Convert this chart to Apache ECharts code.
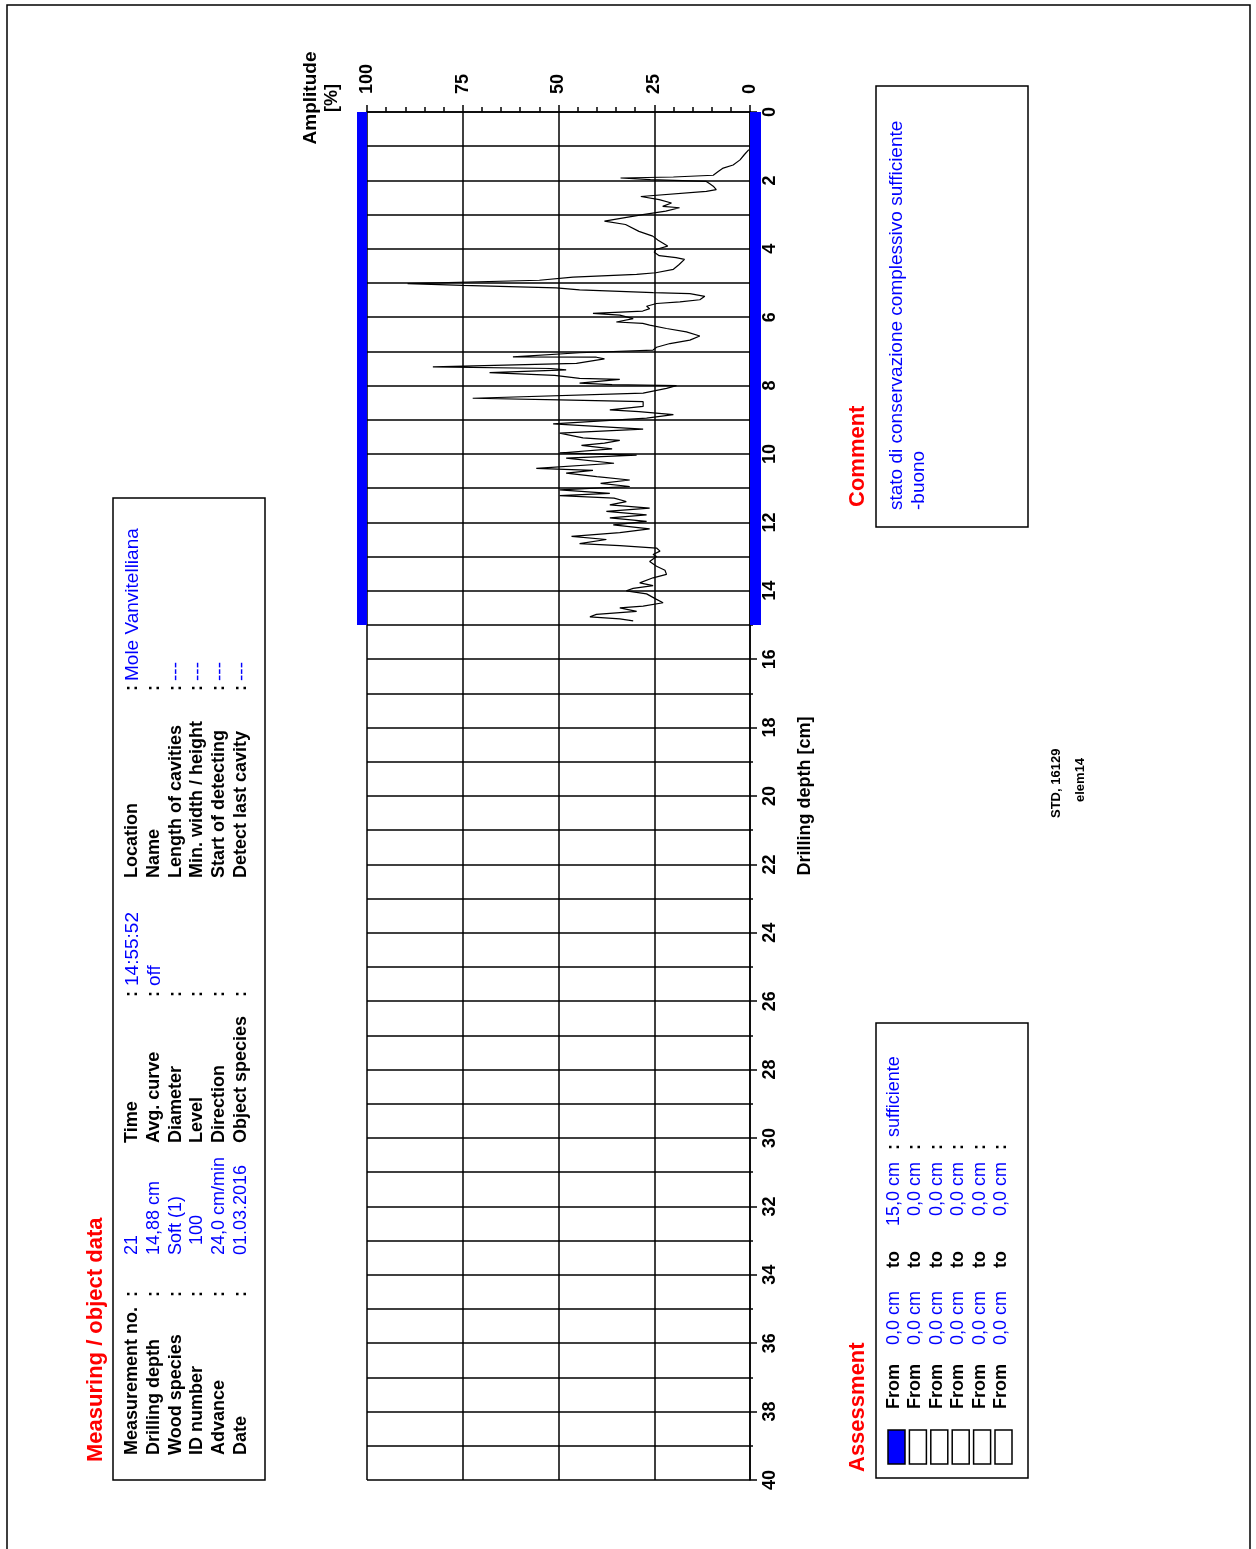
<!DOCTYPE html>
<html>
<head>
<meta charset="utf-8">
<title>Drilling profile</title>
<script src="https://cdn.jsdelivr.net/npm/echarts@6/dist/echarts.min.js"></script>
<style>
html, body { margin: 0; padding: 0; background: #fff; }
#chart { width: 1256px; height: 1549px; }
</style>
</head>
<body>
<div id="chart"></div>
<script>
// drilling profile: depth [cm] and amplitude [%]
var depth = [
	1.10, 1.25, 1.40, 1.55, 1.64, 1.74, 1.85, 1.90, 1.93,
	1.98, 2.03, 2.10, 2.17, 2.27, 2.32, 2.47, 2.56, 2.66, 2.76,
	2.80, 2.90, 3.00, 3.05, 3.19, 3.29, 3.49, 3.63, 3.75, 3.83,
	3.92, 4.02, 4.10, 4.20, 4.26, 4.31, 4.46, 4.60, 4.70, 4.75,
	4.83, 4.92, 5.02, 5.07, 5.14, 5.20, 5.28, 5.31, 5.39, 5.49,
	5.55, 5.60, 5.68, 5.75, 5.82, 5.89, 5.94, 6.04, 6.14, 6.18,
	6.23, 6.33, 6.43, 6.55, 6.67, 6.77, 6.88, 6.96, 7.04, 7.16,
	7.17, 7.22, 7.35, 7.45, 7.50, 7.54, 7.62, 7.70, 7.79, 7.82,
	7.93, 7.97, 8.00, 8.08, 8.22, 8.37, 8.42, 8.47, 8.61, 8.71,
	8.76, 8.85, 8.95, 9.12, 9.27, 9.39, 9.53, 9.60, 9.68, 9.75,
	9.85, 9.97, 10.03, 10.12, 10.27, 10.42, 10.48, 10.56, 10.66, 10.76,
	10.86, 10.95, 11.05, 11.15, 11.22, 11.29, 11.39, 11.49, 11.58, 11.68,
	11.78, 11.87, 11.97, 12.07, 12.19, 12.30, 12.41, 12.50, 12.62, 12.68,
	12.75, 12.84, 12.94, 13.00, 13.14, 13.28, 13.40, 13.52, 13.62, 13.77,
	13.85, 13.93, 14.00, 14.09, 14.25, 14.35, 14.45, 14.50, 14.60, 14.69,
	14.76, 14.82, 14.88
];
var amplitude = [
	0.3, 1.5, 2.6, 4.4, 7.0, 8.3, 9.6, 20, 33.8,
	26, 11.4, 10.5, 9.6, 8.8, 11.4, 28.5, 23.7, 20.5, 22.8,
	18.4, 22, 28, 27.5, 38, 32.5, 29, 25.4, 24, 22.8,
	21.5, 24.6, 25, 23.7, 19.3, 17.1, 18.5, 20, 24.6, 29.6,
	46.2, 55, 89.4, 75, 50.6, 44.5, 25.3, 15.7, 11.8, 13.1,
	18.3, 24.4, 27, 26.2, 28, 41, 34, 30.5, 34.9, 28,
	26.2, 21.8, 16.6, 13.1, 15.7, 20.9, 24.4, 25.3, 44.5, 61.9,
	40.1, 38, 45.3, 82.8, 52, 48, 68, 51, 44.5, 34,
	44.5, 36, 19.2, 21.8, 27.9, 72.4, 49.7, 27.9, 27.9, 36.6,
	29, 20, 27, 51.4, 27.9, 49.7, 43.6, 34, 38, 44,
	36, 49.7, 29.6, 48, 35.5, 55.8, 41, 48, 40, 31.4,
	39, 31.4, 49.7, 36.6, 49.7, 35.5, 32.3, 36.6, 26.2, 37.5,
	27, 36.6, 27, 35.7, 26.2, 34, 46.6, 37.5, 44.5, 34,
	24.4, 23.5, 25.3, 24.4, 26.2, 24.4, 22.2, 21.8, 25.3, 28.8,
	25.3, 30.5, 32.3, 27, 24.4, 22.7, 27.9, 34, 29.6, 40.1,
	41.8, 34, 30.5
];

// assessment ranges [cm]
var assessFrom = [0, 0, 0, 0, 0, 0];
var assessTo = [15, 0, 0, 0, 0, 0];
var assessText = ['sufficiente', '', '', '', '', ''];

// measuring / object data
var infoLabels1 = ['Measurement no.', 'Drilling depth', 'Wood species', 'ID number', 'Advance', 'Date'];
var infoValues1 = ['21', '14,88 cm', 'Soft (1)', '  100', '24,0 cm/min', '01.03.2016'];
var infoLabels2 = ['Time', 'Avg. curve', 'Diameter', 'Level', 'Direction', 'Object species'];
var infoValues2 = ['14:55:52', 'off', '', '', '', ''];
var infoLabels3 = ['Location', 'Name', 'Length of cavities', 'Min. width / height', 'Start of detecting', 'Detect last cavity'];
var infoValues3 = ['Mole Vanvitelliana', '', '---', '---', '---', '---'];

var commentLines = ['stato di conservazione complessivo sufficiente', '-buono'];
var footLines = ['STD, 16129', 'elem14'];

var H = 1549;
var FONT = '"Liberation Sans", Arial, sans-serif';
var BLUE = '#0000ff', RED = '#ff0000';

// text turned a quarter left: x = left edge on screen, yStart = where the text begins (bottom)
function rtext(x, yStart, str, style) {
	return {
		type: 'text', x: H - yStart, y: x,
		style: Object.assign({
			text: str, fill: '#000', fontFamily: FONT, fontSize: 18,
			align: 'left', verticalAlign: 'top', textAlign: 'left', textVerticalAlign: 'top'
		}, style || {})
	};
}
function box(x, y, w, h, fill) {
	return {type: 'rect', shape: {x: x, y: y, width: w, height: h},
		style: {fill: fill || 'none', stroke: '#000', lineWidth: 1.5}};
}
function fmt(v) {
	return v.toFixed(1).replace('.', ',') + ' cm';
}

var rotated = [];
// left info block
rotated.push(rtext(85, 1462, 'Measuring / object data', {fill: RED, fontSize: 22, fontWeight: 'bold'}));
for (var i = 0; i < 6; i++) {
	var rx = 123 + i * 21.8;
	rotated.push(rtext(rx, 1455, infoLabels1[i], {fontWeight: 'bold'}));
	rotated.push(rtext(rx, 1297, ':', {fontWeight: 'bold'}));
	rotated.push(rtext(rx, 1255, infoValues1[i], {fill: BLUE}));
	rotated.push(rtext(rx, 1143, infoLabels2[i], {fontWeight: 'bold'}));
	rotated.push(rtext(rx, 997, ':', {fontWeight: 'bold'}));
	rotated.push(rtext(rx, 986, infoValues2[i], {fill: BLUE, fontSize: 19}));
	rotated.push(rtext(rx, 878, infoLabels3[i], {fontWeight: 'bold'}));
	rotated.push(rtext(rx, 691, ':', {fontWeight: 'bold'}));
	rotated.push(rtext(rx, 681, infoValues3[i], {fill: BLUE, fontSize: 19}));
}
// amplitude axis caption
rotated.push(rtext(301, 98, 'Amplitude', {fontWeight: 'bold', fontSize: 19, align: 'center', textAlign: 'center'}));
rotated.push(rtext(323, 98, '[%]', {fontWeight: 'bold', align: 'center', textAlign: 'center'}));
// comment
rotated.push(rtext(847, 507, 'Comment', {fill: RED, fontSize: 22, fontWeight: 'bold'}));
for (var c = 0; c < commentLines.length; c++) {
	rotated.push(rtext(887 + c * 22, 510, commentLines[c], {fill: BLUE, fontSize: 19}));
}
// assessment
rotated.push(rtext(847, 1472, 'Assessment', {fill: RED, fontSize: 22, fontWeight: 'bold', letterSpacing: 0.6}));
for (var a = 0; a < assessFrom.length; a++) {
	var ax = 885 + a * 21.4;
	rotated.push(rtext(ax, 1409, 'From', {fontWeight: 'bold'}));
	rotated.push(rtext(ax, 1345, fmt(assessFrom[a]), {fill: BLUE}));
	rotated.push(rtext(ax, 1268, 'to', {fontWeight: 'bold'}));
	rotated.push(rtext(ax, 1162, fmt(assessTo[a]), {fill: BLUE, align: 'right', textAlign: 'right'}));
	rotated.push(rtext(ax, 1150, ':', {fontWeight: 'bold'}));
	rotated.push(rtext(ax, 1137, assessText[a], {fill: BLUE}));
}
// footer stamp
rotated.push(rtext(1050, 818, footLines[0], {fontSize: 13, fontWeight: 'bold'}));
rotated.push(rtext(1074, 802, footLines[1], {fontSize: 13, fontWeight: 'bold'}));

var flat = [
	box(7, 5, 1243, 1600),
	box(113, 498, 152, 982),
	box(876, 86, 152, 441),
	box(876, 1023, 152, 455)
];
for (var s = 0; s < assessFrom.length; s++) {
	flat.push(box(888 + s * 21.4, 1430, 17, 34, assessTo[s] > assessFrom[s] ? BLUE : '#fff'));
}

var profile = [];
for (var k = 0; k < depth.length; k++) {
	profile.push([amplitude[k], depth[k]]);
}
var ranges = [];
for (var r = 0; r < assessFrom.length; r++) {
	if (assessTo[r] > assessFrom[r]) ranges.push([assessFrom[r], assessTo[r]]);
}

var chart = echarts.init(document.getElementById('chart'));
chart.setOption({
	backgroundColor: '#fff',
	animation: false,
	textStyle: {fontFamily: FONT},
	grid: {left: 367, right: 506, top: 112, bottom: 69},
	xAxis: {
		type: 'value', position: 'top', inverse: true,
		min: 0, max: 100, interval: 25,
		axisLine: {show: true, lineStyle: {color: '#000', width: 1.5}},
		axisTick: {show: true, length: 7, lineStyle: {color: '#000', width: 1.5}},
		minorTick: {show: true, splitNumber: 5, length: 5, lineStyle: {color: '#000', width: 1.5}},
		splitLine: {show: true, lineStyle: {color: '#000', width: 1.5}},
		axisLabel: {rotate: 90, margin: 18, color: '#000', fontSize: 18, fontWeight: 'bold', fontFamily: FONT}
	},
	yAxis: {
		type: 'value', position: 'right', inverse: true,
		min: 0, max: 40, interval: 2,
		name: 'Drilling depth [cm]', nameLocation: 'middle', nameRotate: 90, nameGap: 46,
		nameTextStyle: {color: '#000', fontSize: 18, fontWeight: 'bold', fontFamily: FONT},
		axisLine: {show: true, lineStyle: {color: '#000', width: 1.5}},
		axisTick: {show: true, length: 7, lineStyle: {color: '#000', width: 1.5}},
		minorTick: {show: true, splitNumber: 2, length: 3, lineStyle: {color: '#000', width: 1.5}},
		splitLine: {show: true, lineStyle: {color: '#000', width: 1.5}},
		minorSplitLine: {show: true, lineStyle: {color: '#000', width: 1.5}},
		axisLabel: {rotate: 90, margin: 11, color: '#000', fontSize: 18, fontWeight: 'bold', fontFamily: FONT}
	},
	series: [
		{
			type: 'custom', clip: false, z: 3,
			data: ranges,
			renderItem: function(params, api) {
				var top = api.coord([100, api.value(0)]);
				var bot = api.coord([100, api.value(1)]);
				var right = api.coord([0, api.value(0)]);
				return {type: 'group', children: [
					{type: 'rect', shape: {x: top[0] - 10, y: top[1], width: 10, height: bot[1] - top[1]}, style: {fill: BLUE}},
					{type: 'rect', shape: {x: right[0], y: top[1], width: 11, height: bot[1] - top[1]}, style: {fill: BLUE}}
				]};
			}
		},
		{
			type: 'line', data: profile, showSymbol: false, symbol: 'none', z: 4,
			lineStyle: {color: '#000', width: 1.2}
		}
	],
	graphic: flat.concat([{type: 'group', x: 0, y: H, rotation: Math.PI / 2, children: rotated}])
});
</script>
</body>
</html>
